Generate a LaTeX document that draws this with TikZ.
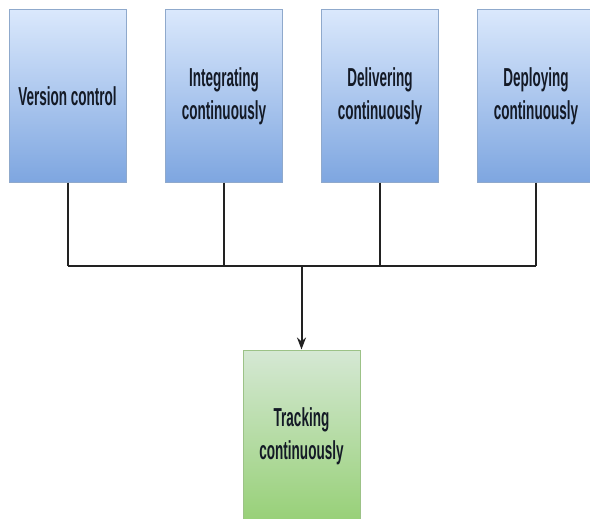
\documentclass[tikz,border=0pt]{standalone}
\usepackage{fontspec}
\newfontfamily\boxfont{Liberation Sans}[FakeStretch=0.52]
\usetikzlibrary{arrows.meta}
\definecolor{bluetop}{HTML}{DAE8FC}
\definecolor{bluebot}{HTML}{7EA6E0}
\definecolor{bluestroke}{HTML}{8FA9CC}
\definecolor{greentop}{HTML}{D5E8D4}
\definecolor{greenbot}{HTML}{97D077}
\definecolor{greenstroke}{HTML}{9CC287}
\definecolor{txt}{HTML}{141A26}
\definecolor{wire}{HTML}{222222}
\begin{document}
\begin{tikzpicture}[x=1pt,y=-1pt,
  box/.style={rectangle, minimum width=117pt, minimum height=172pt, inner sep=0pt,
    align=center, text=txt, font=\boxfont\bfseries\fontsize{26}{33}\selectfont, line width=1pt},
  bluebox/.style={box, draw=bluestroke, top color=bluetop, bottom color=bluebot},
  greenbox/.style={box, draw=greenstroke, top color=greentop, bottom color=greenbot},
  wireline/.style={draw=wire, line width=2pt},
  barline/.style={draw=wire, line width=2.8pt}]
\useasboundingbox (0,0) rectangle (590,519);
\node[bluebox] (v1) at (67.5,96) {Version control};
\node[bluebox] (v2) at (224,96) {Integrating\\continuously};
\node[bluebox] (v3) at (380,96) {Delivering\\continuously};
\node[bluebox] (v4) at (536,96) {Deploying\\continuously};
\node[greenbox] (t) at (301.5,436) {Tracking\\continuously};
\coordinate (j) at (301.5,266);
\draw[wireline] (v1.south) -- (v1.south |- j);
\draw[wireline] (v2.south) -- (v2.south |- j);
\draw[wireline] (v3.south) -- (v3.south |- j);
\draw[wireline] (v4.south) -- (v4.south |- j);
\draw[barline] (v1.south |- j) -- (v4.south |- j);
\draw[wireline, -{Stealth[length=12pt,width=9pt]}] (j) -- (t.north);
\end{tikzpicture}
\end{document}
